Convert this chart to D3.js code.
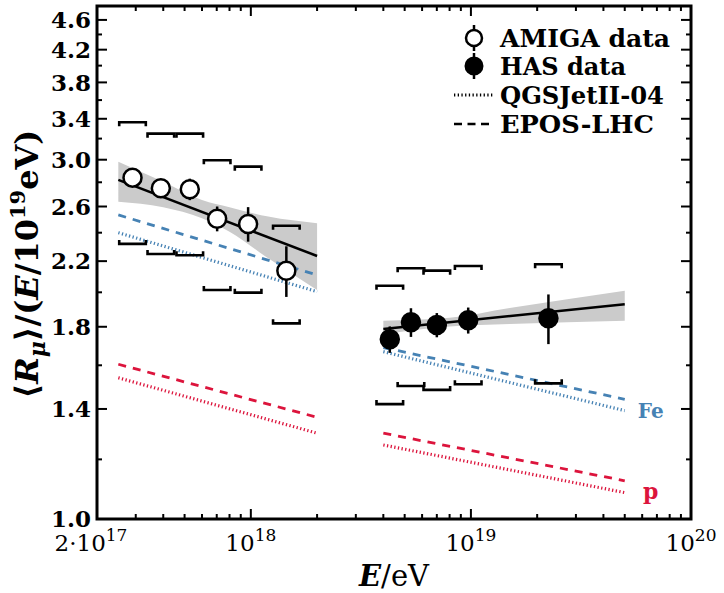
<!DOCTYPE html>
<html><head><meta charset="utf-8">
<script src="https://cdn.jsdelivr.net/npm/d3@7"></script>
<style>body{margin:0;background:#fff}svg{display:block}</style>
</head><body>
<svg id="chart" width="724" height="593"></svg>
<script>
// ---------- data ----------
const amigaE   = [2.90e17, 3.90e17, 5.28e17, 7.03e17, 9.72e17, 1.45e18];
const amigaR   = [2.840, 2.749, 2.741, 2.505, 2.465, 2.137];
const amigaErr = [0.03, 0.03, 0.09, 0.095, 0.13, 0.165];
const amigaSysHi = [3.364, 3.249, 3.249, 2.995, 2.937, 2.452];
const amigaSysLo = [2.319, 2.249, 2.240, 2.014, 1.998, 1.819];

const hasE   = [4.28e18, 5.34e18, 7.00e18, 9.72e18, 2.25e19];
const hasR   = [1.732, 1.825, 1.810, 1.836, 1.847];
const hasErr = [0.07, 0.08, 0.067, 0.073, 0.14];
const hasSysHi = [2.041, 2.153, 2.137, 2.168, 2.179];
const hasSysLo = [1.421, 1.502, 1.484, 1.510, 1.514];

const amigaFitE = [2.5e17, 2e18];
const amigaFitR = [2.82, 2.235];
const amigaBandE  = [2.5e17, 4e17, 6e17, 8e17, 1.2e18, 2e18];
const amigaBandHi = [2.982, 2.805, 2.652, 2.594, 2.521, 2.470];
const amigaBandLo = [2.639, 2.594, 2.508, 2.407, 2.219, 2.014];

const hasFitE = [4e18, 5e19];
const hasFitR = [1.788, 1.928];
const hasBandE  = [4e18, 8e18, 1.5e19, 5e19];
const hasBandHi = [1.834, 1.851, 1.907, 2.010];
const hasBandLo = [1.759, 1.801, 1.815, 1.834];

const modelEAmiga = [2.5e17, 2e18];
const modelEHas   = [4e18, 5e19];
const feEposAmiga = [2.534, 2.109];
const feQgsAmiga  = [2.400, 2.004];
const pEposAmiga  = [1.605, 1.365];
const pQgsAmiga   = [1.540, 1.300];
const feEposHas = [1.689, 1.442];
const feQgsHas  = [1.668, 1.393];
const pEposHas  = [1.300, 1.124];
const pQgsHas   = [1.254, 1.084];

const yMajor = [1.0, 1.4, 1.8, 2.2, 2.6, 3.0, 3.4, 3.8, 4.2, 4.6];
const yMinor = [1.2, 1.6, 2.0, 2.4, 2.8, 3.2, 3.6, 4.0, 4.4];
const xMajor = [2e17, 1e18, 1e19, 1e20];
const xMajorLabels = [["2·10","17"], ["10","18"], ["10","19"], ["10","20"]];
const legendLabels = ["AMIGA data", "HAS data", "QGSJetII-04", "EPOS-LHC"];

// ---------- layout ----------
const W = 724, H = 593;
const m = {left: 97, right: 691, top: 6, bottom: 519};
const BLUE = "#4682b4", RED = "#dc143c", GREY = "#cbcbcb";
const serif = "'DejaVu Serif', serif";

const svg = d3.select("#chart");
const x = d3.scaleLog().domain([2e17, 1e20]).range([m.left, m.right]);
const y = d3.scaleLog().domain([1.0, 4.8]).range([m.bottom, m.top]);

const g = svg.append("g");

// bands
function band(E, lo, hi) {
  const d = E.map((e, i) => ({e, lo: lo[i], hi: hi[i]}));
  g.append("path").datum(d)
    .attr("fill", GREY).attr("stroke", "none")
    .attr("d", d3.area().curve(d3.curveMonotoneX)
      .x(p => x(p.e)).y0(p => y(p.lo)).y1(p => y(p.hi)));
}
band(amigaBandE, amigaBandLo, amigaBandHi);
band(hasBandE, hasBandLo, hasBandHi);

// models
function line(E, R, color, dash, width) {
  g.append("path").datum(E.map((e, i) => [e, R[i]]))
    .attr("fill", "none").attr("stroke", color)
    .attr("stroke-width", width)
    .attr("stroke-dasharray", dash)
    .attr("d", d3.line().x(p => x(p[0])).y(p => y(p[1])));
}
const DASH = "8,7", DOT = "1.3,2.4";
line(modelEAmiga, feEposAmiga, BLUE, DASH, 2.8);
line(modelEAmiga, feQgsAmiga, BLUE, DOT, 3.2);
line(modelEAmiga, pEposAmiga, RED, DASH, 2.8);
line(modelEAmiga, pQgsAmiga, RED, DOT, 3.2);
line(modelEHas, feEposHas, BLUE, DASH, 2.8);
line(modelEHas, feQgsHas, BLUE, DOT, 3.2);
line(modelEHas, pEposHas, RED, DASH, 2.8);
line(modelEHas, pQgsHas, RED, DOT, 3.2);

// fits
line(amigaFitE, amigaFitR, "#000", null, 2.5);
line(hasFitE, hasFitR, "#000", null, 2.5);

// systematic brackets
function brackets(E, hi, lo) {
  const hw = 13.3, tk = 4;
  E.forEach((e, i) => {
    const cx = x(e);
    const yh = y(hi[i]), yl = y(lo[i]);
    g.append("path").attr("fill", "none").attr("stroke", "#000").attr("stroke-width", 2.6)
      .attr("d", `M${cx-hw},${yh+tk}V${yh}H${cx+hw}V${yh+tk}`);
    g.append("path").attr("fill", "none").attr("stroke", "#000").attr("stroke-width", 2.6)
      .attr("d", `M${cx-hw},${yl-tk}V${yl}H${cx+hw}V${yl-tk}`);
  });
}
brackets(amigaE, amigaSysHi, amigaSysLo);
brackets(hasE, hasSysHi, hasSysLo);

// data points
function points(E, R, err, filled) {
  E.forEach((e, i) => {
    g.append("line").attr("stroke", "#000").attr("stroke-width", 2.5)
      .attr("x1", x(e)).attr("x2", x(e))
      .attr("y1", y(R[i] + err[i])).attr("y2", y(R[i] - err[i]));
  });
  E.forEach((e, i) => {
    g.append("circle").attr("cx", x(e)).attr("cy", y(R[i])).attr("r", 9)
      .attr("fill", filled ? "#000" : "#fff").attr("stroke", "#000").attr("stroke-width", 2.5);
  });
}
points(amigaE, amigaR, amigaErr, false);
points(hasE, hasR, hasErr, true);

// Fe / p labels
g.append("text").attr("x", x(5e19) + 26).attr("y", y(feQgsHas[1]) + 7)
  .attr("text-anchor", "middle").attr("fill", BLUE)
  .attr("font-family", serif).attr("font-weight", "bold").attr("font-size", 20).text("Fe");
g.append("text").attr("x", x(5e19) + 26).attr("y", y(pQgsHas[1]) + 6)
  .attr("text-anchor", "middle").attr("fill", RED)
  .attr("font-family", serif).attr("font-weight", "bold").attr("font-size", 22).text("p");

// ---------- axes / frame ----------
const ax = svg.append("g");
// y ticks (left and right, inward)
yMajor.concat(yMinor).forEach(v => {
  const len = yMajor.includes(v) ? 10 : 5;
  ax.append("line").attr("x1", m.left).attr("x2", m.left + len)
    .attr("y1", y(v)).attr("y2", y(v)).attr("stroke", "#000").attr("stroke-width", 2);
  ax.append("line").attr("x1", m.right).attr("x2", m.right - len)
    .attr("y1", y(v)).attr("y2", y(v)).attr("stroke", "#000").attr("stroke-width", 2);
});
// x ticks (bottom and top, inward)
const xAll = x.ticks().filter(v => v > 2e17 && v < 1e20);
xAll.forEach(v => {
  const lg = Math.log10(v);
  const major = Math.abs(lg - Math.round(lg)) < 1e-9;
  const len = major ? 10 : 5;
  ax.append("line").attr("x1", x(v)).attr("x2", x(v))
    .attr("y1", m.bottom).attr("y2", m.bottom - len).attr("stroke", "#000").attr("stroke-width", 2);
  ax.append("line").attr("x1", x(v)).attr("x2", x(v))
    .attr("y1", m.top).attr("y2", m.top + len).attr("stroke", "#000").attr("stroke-width", 2);
});
ax.append("rect").attr("x", m.left).attr("y", m.top)
  .attr("width", m.right - m.left).attr("height", m.bottom - m.top)
  .attr("fill", "none").attr("stroke", "#000").attr("stroke-width", 3);

// y tick labels
yMajor.forEach(v => {
  ax.append("text").attr("x", m.left - 6).attr("y", y(v)).attr("dy", "0.36em")
    .attr("text-anchor", "end").attr("font-family", serif).attr("font-weight", "bold")
    .attr("font-size", 23).text(d3.format(".1f")(v));
});
// x tick labels
xMajor.forEach((v, i) => {
  const t = ax.append("text").attr("x", x(v) + (i === 0 ? -6 : 0)).attr("y", 551)
    .attr("text-anchor", "middle").attr("font-family", serif).attr("font-size", 23);
  t.append("tspan").text(xMajorLabels[i][0]);
  t.append("tspan").attr("dy", -10).attr("font-size", 17).text(xMajorLabels[i][1]);
});

// axis titles
const xt = svg.append("text").attr("x", (m.left + m.right) / 2).attr("y", 586)
  .attr("text-anchor", "middle").attr("font-family", serif).attr("font-size", 29);
xt.append("tspan").attr("font-weight", "bold").attr("font-style", "italic").text("E");
xt.append("tspan").text("/eV");

const yt = svg.append("text").attr("transform", "translate(38,264) rotate(-90)")
  .attr("text-anchor", "middle").attr("font-family", serif).attr("font-weight", "bold").attr("font-size", 32);
yt.append("tspan").text("⟨");
yt.append("tspan").attr("font-style", "italic").text("R");
yt.append("tspan").attr("font-style", "italic").attr("font-size", 22).attr("dy", 7).text("μ");
yt.append("tspan").attr("dy", -7).text("⟩/(");
yt.append("tspan").attr("font-style", "italic").text("E");
yt.append("tspan").text("/10");
yt.append("tspan").attr("font-size", 21).attr("dy", -13).text("19");
yt.append("tspan").attr("dy", 13).text("eV)");

// ---------- legend ----------
const lg = svg.append("g");
const lx = 474, textX = 500;
const rows = [38, 66, 95, 124];
const widths = [170, 126, 164, 154];
lg.append("line").attr("x1", lx).attr("x2", lx).attr("y1", rows[0] - 13).attr("y2", rows[0] + 13)
  .attr("stroke", "#000").attr("stroke-width", 2.5);
lg.append("circle").attr("cx", lx).attr("cy", rows[0]).attr("r", 8)
  .attr("fill", "#fff").attr("stroke", "#000").attr("stroke-width", 2.5);
lg.append("line").attr("x1", lx).attr("x2", lx).attr("y1", rows[1] - 13).attr("y2", rows[1] + 13)
  .attr("stroke", "#000").attr("stroke-width", 2.5);
lg.append("circle").attr("cx", lx).attr("cy", rows[1]).attr("r", 8.5)
  .attr("fill", "#000").attr("stroke", "#000").attr("stroke-width", 2);
lg.append("line").attr("x1", 454).attr("x2", 494).attr("y1", rows[2]).attr("y2", rows[2])
  .attr("stroke", "#000").attr("stroke-width", 2.8).attr("stroke-dasharray", DOT);
lg.append("line").attr("x1", 454).attr("x2", 494).attr("y1", rows[3]).attr("y2", rows[3])
  .attr("stroke", "#000").attr("stroke-width", 2.5).attr("stroke-dasharray", "8,5.5");
legendLabels.forEach((s, i) => {
  lg.append("text").attr("x", textX).attr("y", rows[i] + 9)
    .attr("font-family", serif).attr("font-weight", "bold").attr("font-size", 24)
    .attr("textLength", widths[i]).attr("lengthAdjust", "spacingAndGlyphs").text(s);
});
</script>
</body></html>
